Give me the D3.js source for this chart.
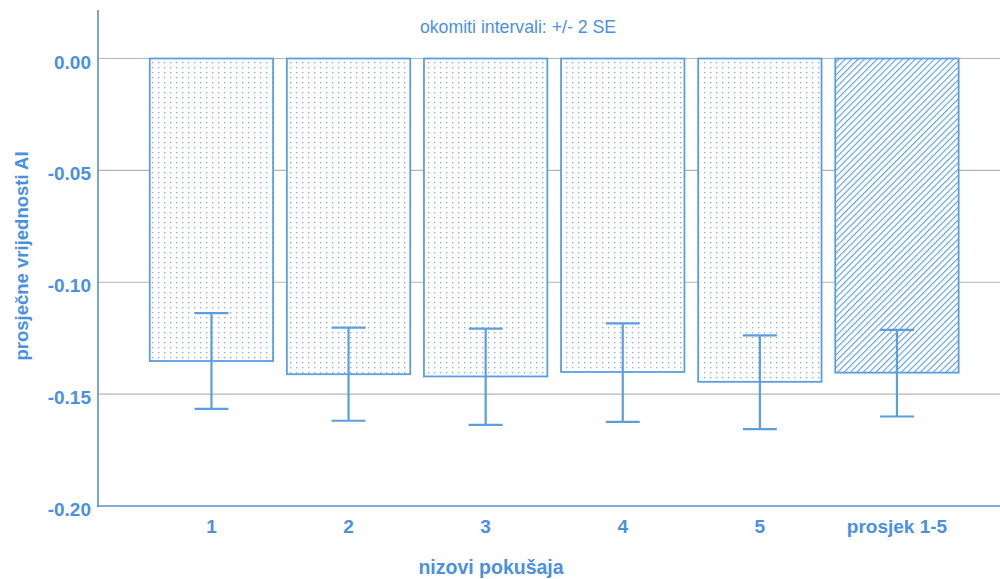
<!DOCTYPE html>
<html>
<head>
<meta charset="utf-8">
<script src="https://cdn.jsdelivr.net/npm/d3@7"></script>
<style>
html,body{margin:0;padding:0;background:#fff;}
svg{display:block;font-family:"Liberation Sans",Arial,sans-serif;}
</style>
</head>
<body>
<svg id="chart" width="1000" height="579"></svg>
<script>
const categories = ["1", "2", "3", "4", "5", "prosjek 1-5"];
const means = [-0.1352, -0.1411, -0.1421, -0.1401, -0.1445, -0.1404];
const errUpper = [-0.1138, -0.1203, -0.1207, -0.1184, -0.1237, -0.1213];
const errLower = [-0.1566, -0.1619, -0.1637, -0.1624, -0.1656, -0.1600];
const yTicks = [0, -0.05, -0.10, -0.15, -0.20];

const blue = "#4a90e2";
const barStroke = "#5b9ee0";
const svg = d3.select("#chart");

const defs = svg.append("defs");
const dots = defs.append("pattern").attr("id", "dots").attr("patternUnits", "userSpaceOnUse")
  .attr("width", 6).attr("height", 5);
dots.append("rect").attr("width", 6).attr("height", 5).attr("fill", "#fff");
dots.append("rect").attr("x", 2).attr("y", 2).attr("width", 1.3).attr("height", 1.3).attr("fill", "#86a9d2");

const hatch = defs.append("pattern").attr("id", "hatch").attr("patternUnits", "userSpaceOnUse")
  .attr("width", 4.5).attr("height", 4.5).attr("patternTransform", "rotate(45)");
hatch.append("rect").attr("width", 4.5).attr("height", 4.5).attr("fill", "#fff");
hatch.append("line").attr("x1", 0).attr("y1", 0).attr("x2", 0).attr("y2", 4.5)
  .attr("stroke", "#5b9ee0").attr("stroke-width", 2.2);

const y = d3.scaleLinear().domain([-0.20, 0]).range([506, 58.5]);
const x = d3.scaleBand().domain(categories).range([142.9, 965.5]).paddingInner(0.1).paddingOuter(0.05);
const fmt = d3.formatLocale({decimal: ".", thousands: ",", grouping: [3], currency: ["", ""], minus: "-"}).format(".2f");

// gridlines
svg.append("g").selectAll("line").data(yTicks.filter(d => d > -0.2)).join("line")
  .attr("x1", 98).attr("x2", 1000)
  .attr("y1", d => y(d)).attr("y2", d => y(d))
  .attr("stroke", "#b5b5b5").attr("stroke-width", 1.2);

// bars
svg.append("g").selectAll("rect").data(categories).join("rect")
  .attr("x", d => x(d))
  .attr("y", y(0))
  .attr("width", x.bandwidth())
  .attr("height", (d, i) => y(means[i]) - y(0))
  .attr("fill", (d, i) => i === categories.length - 1 ? "url(#hatch)" : "url(#dots)")
  .attr("stroke", barStroke).attr("stroke-width", 1.8);

// error bars
const eb = svg.append("g").attr("stroke", "#5b9ee0").attr("stroke-width", 2.2);
categories.forEach((c, i) => {
  const cx = x(c) + x.bandwidth() / 2;
  eb.append("line").attr("x1", cx).attr("x2", cx).attr("y1", y(errUpper[i])).attr("y2", y(errLower[i]));
  eb.append("line").attr("x1", cx - 17).attr("x2", cx + 17).attr("y1", y(errUpper[i])).attr("y2", y(errUpper[i]));
  eb.append("line").attr("x1", cx - 17).attr("x2", cx + 17).attr("y1", y(errLower[i])).attr("y2", y(errLower[i]));
});

// axes
const yAxis = svg.append("g").attr("transform", "translate(98,0)")
  .call(d3.axisLeft(y).tickValues(yTicks).tickFormat(fmt).tickSize(0).tickPadding(7));
yAxis.select(".domain").remove();
yAxis.selectAll("text").attr("fill", blue).attr("font-size", 19).attr("font-weight", "bold")
  .attr("font-family", "Liberation Sans, Arial, sans-serif").attr("dy", "0.5em");

const xAxis = svg.append("g").attr("transform", "translate(0,506)")
  .call(d3.axisBottom(x).tickSize(0).tickPadding(0));
xAxis.select(".domain").remove();
xAxis.selectAll("text").attr("fill", blue).attr("font-size", 19).attr("font-weight", "bold")
  .attr("font-family", "Liberation Sans, Arial, sans-serif")
  .attr("dy", null).attr("y", 27);

svg.append("line").attr("x1", 98).attr("x2", 98).attr("y1", 10).attr("y2", 507)
  .attr("stroke", "#5a8fd0").attr("stroke-width", 1.6);
svg.append("line").attr("x1", 97.2).attr("x2", 1000).attr("y1", 506).attr("y2", 506)
  .attr("stroke", "#5a8fd0").attr("stroke-width", 1.6);

// titles
svg.append("text").attr("x", 518).attr("y", 33).attr("text-anchor", "middle")
  .attr("fill", blue).attr("font-size", 17.7).text("okomiti intervali: +/- 2 SE");

svg.append("text").attr("x", 491).attr("y", 574).attr("text-anchor", "middle")
  .attr("fill", blue).attr("font-size", 19.5).attr("font-weight", "bold").text("nizovi pokušaja");

svg.append("text").attr("transform", "translate(28,256) rotate(-90)").attr("text-anchor", "middle")
  .attr("fill", blue).attr("font-size", 18.5).attr("font-weight", "bold").text("prosječne vrijednosti AI");
</script>
</body>
</html>
